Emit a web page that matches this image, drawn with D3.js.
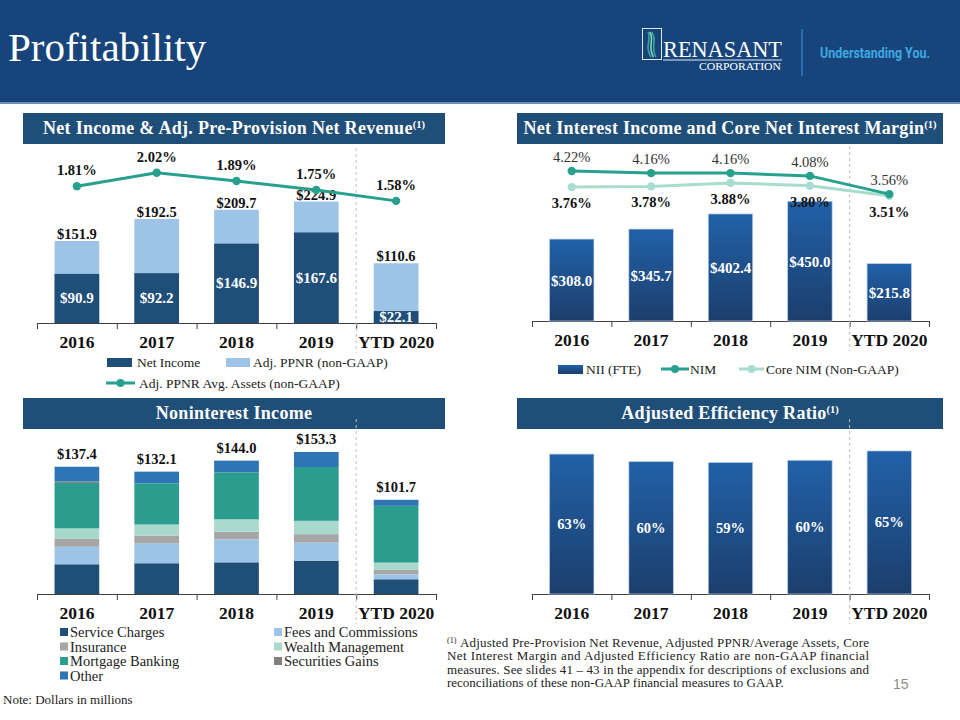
<!DOCTYPE html>
<html>
<head>
<meta charset="utf-8">
<script src="https://cdn.jsdelivr.net/npm/d3@7"></script>
<style>
body { margin: 0; background: #fff; }
svg { display: block; font-family: "Liberation Serif", "Times New Roman", serif; }
</style>
</head>
<body>
<svg id="chart" width="960" height="720"></svg>
<script>
// data (dollars in millions)
var years = ["2016", "2017", "2018", "2019", "YTD 2020"];

var netIncome = [90.9, 92.2, 146.9, 167.6, 22.1];
var adjPpnr = [151.9, 192.5, 209.7, 224.9, 110.6];
var ppnrAvgAssets = [1.81, 2.02, 1.89, 1.75, 1.58];

var niiFte = [308.0, 345.7, 402.4, 450.0, 215.8];
var nim = [4.22, 4.16, 4.16, 4.08, 3.56];
var coreNim = [3.76, 3.78, 3.88, 3.80, 3.51];

var nonintSeries = ["Service Charges", "Fees and Commissions", "Insurance", "Wealth Management", "Mortgage Banking", "Securities Gains", "Other"];
var serviceCharges = [32.1, 33.2, 34.2, 36.0, 15.9];
var feesCommissions = [18.9, 21.6, 24.8, 19.5, 5.4];
var insurance = [8.4, 8.3, 8.2, 9.1, 4.7];
var wealthMgmt = [11.5, 11.9, 13.4, 14.4, 7.9];
var mortgageBanking = [49.0, 44.5, 50.8, 58.1, 61.3];
var securitiesGains = [1.6, 0.1, 0.1, 0.0, 0.0];
var otherIncome = [15.9, 12.5, 12.5, 16.2, 6.5];
var nonintTotals = [137.4, 132.1, 144.0, 153.3, 101.7];

var efficiency = [63.2, 59.8, 59.4, 60.4, 64.6];

var footnoteLines = [
  "Adjusted Pre-Provision Net Revenue, Adjusted PPNR/Average Assets, Core",
  "Net Interest Margin and Adjusted Efficiency Ratio are non-GAAP financial",
  "measures. See slides 41 \u2013 43 in the appendix for descriptions of exclusions and",
  "reconciliations of these non-GAAP financial measures to GAAP."
];

var navy = "#1f4e79";
var teal = "#27a08e";
var paleTeal = "#a8dccf";
var nonintColors = ["#1f4e79", "#9dc3e6", "#a6a6a6", "#a9d9cd", "#2a9d8f", "#7f7f7f", "#2e75b6"];

var svg = d3.select("#chart");

var defs = svg.append("defs");
var grad = defs.append("linearGradient").attr("id", "barGrad")
  .attr("x1", 0).attr("y1", 0).attr("x2", 0).attr("y2", 1);
grad.append("stop").attr("offset", "0%").attr("stop-color", "#2161a8");
grad.append("stop").attr("offset", "100%").attr("stop-color", "#1c3e6c");

// top banner
svg.append("rect").attr("x", 0).attr("y", 0).attr("width", 960).attr("height", 103).attr("fill", "#17457b");
svg.append("rect").attr("x", 0).attr("y", 102).attr("width", 960).attr("height", 2).attr("fill", "#6f8fb3");
svg.append("text").attr("x", 8).attr("y", 61).attr("fill", "#fff")
  .style("font-size", "41px").text("Profitability");

// logo
var logo = svg.append("g");
logo.append("rect").attr("x", 642.5).attr("y", 28.5).attr("width", 19).attr("height", 31)
  .attr("fill", "none").attr("stroke", "#dfe8f2").attr("stroke-width", 1);
[0, 3, 6].forEach(function(o) {
  logo.append("path")
    .attr("d", "M" + (648 + o * 0.6) + ",32 C" + (652 + o) + ",40 " + (644 + o) + ",46 " + (651 + o * 0.8) + ",57")
    .attr("fill", "none").attr("stroke", o == 3 ? "#8fd1c2" : "#3aa88f").attr("stroke-width", 1.6);
});
logo.append("text").attr("x", 663).attr("y", 57).attr("fill", "#fff")
  .attr("textLength", 119).attr("lengthAdjust", "spacingAndGlyphs")
  .style("font-size", "24px").text("RENASANT");
logo.append("line").attr("x1", 663).attr("x2", 782).attr("y1", 60).attr("y2", 60)
  .attr("stroke", "#dfe8f2").attr("stroke-width", 1);
logo.append("text").attr("x", 699).attr("y", 70).attr("fill", "#fff")
  .attr("textLength", 82).attr("lengthAdjust", "spacingAndGlyphs")
  .style("font-size", "10.5px").text("CORPORATION");
logo.append("line").attr("x1", 802).attr("x2", 802).attr("y1", 29).attr("y2", 76)
  .attr("stroke", "#2a8fcf").attr("stroke-width", 1.2);
logo.append("text").attr("x", 820).attr("y", 58).attr("fill", "#3ea8e0")
  .attr("textLength", 110).attr("lengthAdjust", "spacingAndGlyphs")
  .style("font-family", "Roboto, 'Open Sans', sans-serif").style("font-weight", "700")
  .style("font-size", "14px").text("Understanding You.");

function header(x, y, w, title, sup) {
  svg.append("rect").attr("x", x).attr("y", y).attr("width", w).attr("height", 31).attr("fill", navy);
  var t = svg.append("text").attr("x", x + w / 2).attr("y", y + 21)
    .attr("text-anchor", "middle").attr("fill", "#fff")
    .style("font-size", "18px").style("font-weight", "700").style("letter-spacing", "0.3px");
  t.append("tspan").text(title);
  if (sup) t.append("tspan").attr("dy", -6).style("font-size", "10.5px").style("letter-spacing", "0").text(sup);
}

// category axis: boundary ticks + year labels
function xAxis(x0, x1, axisY, labelY) {
  var bounds = d3.scaleLinear().domain([0, years.length]).range([x0, x1]);
  var g = svg.append("g").attr("transform", "translate(0," + axisY + ")")
    .call(d3.axisBottom(bounds).tickValues(d3.range(years.length + 1)).tickSizeInner(6).tickSizeOuter(0).tickFormat(""));
  g.select(".domain").attr("stroke", "#404040");
  g.selectAll(".tick line").attr("stroke", "#404040");

  var band = d3.scaleBand().domain(years).range([x0, x1]).paddingInner(0.44).paddingOuter(0.22);
  var lg = svg.append("g").attr("transform", "translate(0," + labelY + ")")
    .call(d3.axisBottom(band).tickSize(0).tickPadding(0));
  lg.select(".domain").remove();
  lg.selectAll("text").attr("fill", "#111").attr("dy", 0)
    .style("font-family", "'Liberation Serif', serif").style("font-size", "17.5px").style("font-weight", "700");

  // dashed divider before the YTD column
  svg.append("line").attr("x1", bounds(4)).attr("x2", bounds(4))
    .attr("y1", axisY - 175).attr("y2", axisY + 30)
    .attr("stroke", "#c0c0c0").attr("stroke-dasharray", "3,3");
  return band;
}

function label(g, x, y, txt, opts) {
  opts = opts || {};
  return g.append("text").attr("x", x).attr("y", y).attr("text-anchor", "middle")
    .attr("fill", opts.fill || "#111")
    .style("font-size", (opts.size || 14) + "px")
    .style("font-weight", opts.bold === false ? "400" : "700")
    .text(txt);
}

var money = function(v) { return "$" + d3.format(".1f")(v); };
var pct = function(v) { return d3.format(".2f")(v) + "%"; };

// ---------------- Panel 1: Net Income & Adj. PPNR ----------------
header(23, 113, 422, "Net Income & Adj. Pre-Provision Net Revenue", "(1)");
var x1 = xAxis(37, 436, 323, 348);
var y1 = d3.scaleLinear().domain([0, 250]).range([323, 188]);
var yl1 = d3.scaleLinear().domain([1.5, 2.1]).range([206, 167.6]);
var p1 = svg.append("g");

p1.selectAll(".ppnr").data(adjPpnr).enter().append("rect")
  .attr("x", function(d, i) { return x1(years[i]); })
  .attr("width", x1.bandwidth())
  .attr("y", function(d) { return y1(d); })
  .attr("height", function(d) { return y1(0) - y1(d); })
  .attr("fill", "#9dc3e6");
p1.selectAll(".ni").data(netIncome).enter().append("rect")
  .attr("x", function(d, i) { return x1(years[i]); })
  .attr("width", x1.bandwidth())
  .attr("y", function(d) { return y1(d); })
  .attr("height", function(d) { return y1(0) - y1(d); })
  .attr("fill", navy);

adjPpnr.forEach(function(d, i) {
  label(p1, x1(years[i]) + x1.bandwidth() / 2, y1(d) - 2, money(d), { size: 14.5 });
});
netIncome.forEach(function(d, i) {
  label(p1, x1(years[i]) + x1.bandwidth() / 2, (y1(d) + y1(0)) / 2 + 5, money(d), { size: 15, fill: "#fff" });
});

var line1 = d3.line().x(function(d, i) { return x1(years[i]) + x1.bandwidth() / 2; }).y(function(d) { return yl1(d); });
p1.append("path").datum(ppnrAvgAssets).attr("d", line1).attr("fill", "none").attr("stroke", teal).attr("stroke-width", 3);
p1.selectAll(".dot").data(ppnrAvgAssets).enter().append("circle")
  .attr("cx", function(d, i) { return x1(years[i]) + x1.bandwidth() / 2; })
  .attr("cy", function(d) { return yl1(d); })
  .attr("r", 4.2).attr("fill", teal);
ppnrAvgAssets.forEach(function(d, i) {
  label(p1, x1(years[i]) + x1.bandwidth() / 2, yl1(d) - 11, pct(d), { size: 14.5 });
});

// legend 1
var lg1 = svg.append("g").style("font-size", "13.5px");
lg1.append("rect").attr("x", 107).attr("y", 358).attr("width", 25).attr("height", 9).attr("fill", navy);
lg1.append("text").attr("x", 137).attr("y", 366.5).attr("fill", "#222").text("Net Income");
lg1.append("rect").attr("x", 226).attr("y", 358).attr("width", 24).attr("height", 9).attr("fill", "#9dc3e6");
lg1.append("text").attr("x", 253).attr("y", 366.5).attr("fill", "#222").text("Adj. PPNR (non-GAAP)");
lg1.append("line").attr("x1", 106).attr("x2", 135).attr("y1", 383).attr("y2", 383).attr("stroke", teal).attr("stroke-width", 3);
lg1.append("circle").attr("cx", 120.5).attr("cy", 383).attr("r", 4).attr("fill", teal);
lg1.append("text").attr("x", 139).attr("y", 387.5).attr("fill", "#222").text("Adj. PPNR Avg. Assets (non-GAAP)");

// ---------------- Panel 2: NII and Core NIM ----------------
header(517, 113, 426, "Net Interest Income and Core Net Interest Margin", "(1)");
var x2 = xAxis(532, 929, 321, 346);
var y2 = d3.scaleLinear().domain([0, 500]).range([321, 188]);
var yl2 = d3.scaleLinear().domain([3.4, 4.3]).range([199.7, 168.2]);
var p2 = svg.append("g");

p2.selectAll("rect").data(niiFte).enter().append("rect")
  .attr("x", function(d, i) { return x2(years[i]); })
  .attr("width", x2.bandwidth())
  .attr("y", function(d) { return y2(d); })
  .attr("height", function(d) { return y2(0) - y2(d); })
  .attr("fill", "url(#barGrad)").attr("stroke", "#b9d2ec").attr("stroke-width", 0.7);
niiFte.forEach(function(d, i) {
  label(p2, x2(years[i]) + x2.bandwidth() / 2, (y2(d) + y2(0)) / 2 + 6, money(d), { size: 15, fill: "#fff" });
});

var cx2 = function(d, i) { return x2(years[i]) + x2.bandwidth() / 2; };
var lineCore = d3.line().x(cx2).y(function(d) { return yl2(d); });
p2.append("path").datum(coreNim).attr("d", lineCore).attr("fill", "none").attr("stroke", paleTeal).attr("stroke-width", 3);
p2.selectAll(".cdot").data(coreNim).enter().append("circle")
  .attr("cx", cx2).attr("cy", function(d) { return yl2(d); }).attr("r", 4.2).attr("fill", paleTeal);
p2.append("path").datum(nim).attr("d", lineCore).attr("fill", "none").attr("stroke", teal).attr("stroke-width", 3);
p2.selectAll(".ndot").data(nim).enter().append("circle")
  .attr("cx", cx2).attr("cy", function(d) { return yl2(d); }).attr("r", 4.2).attr("fill", teal);

nim.forEach(function(d, i) {
  label(p2, cx2(d, i), yl2(d) - 9, pct(d), { size: 14.5, bold: false, fill: "#333" });
});
coreNim.forEach(function(d, i) {
  label(p2, cx2(d, i), yl2(d) + 21, pct(d), { size: 14.5 });
});

var lg2 = svg.append("g").style("font-size", "13.5px");
lg2.append("rect").attr("x", 558).attr("y", 365).attr("width", 25).attr("height", 9).attr("fill", "url(#barGrad)");
lg2.append("text").attr("x", 586).attr("y", 373.5).attr("fill", "#222").text("NII (FTE)");
lg2.append("line").attr("x1", 661).attr("x2", 689).attr("y1", 369).attr("y2", 369).attr("stroke", teal).attr("stroke-width", 3);
lg2.append("circle").attr("cx", 675).attr("cy", 369).attr("r", 4).attr("fill", teal);
lg2.append("text").attr("x", 690).attr("y", 373.5).attr("fill", "#222").text("NIM");
lg2.append("line").attr("x1", 739).attr("x2", 764).attr("y1", 369).attr("y2", 369).attr("stroke", paleTeal).attr("stroke-width", 3);
lg2.append("circle").attr("cx", 751.5).attr("cy", 369).attr("r", 4).attr("fill", paleTeal);
lg2.append("text").attr("x", 766).attr("y", 373.5).attr("fill", "#222").text("Core NIM (Non-GAAP)");

// ---------------- Panel 3: Noninterest Income ----------------
header(23, 398, 422, "Noninterest Income");
var x3 = xAxis(37, 436, 594, 619);
var y3 = d3.scaleLinear().domain([0, 160]).range([594, 445.8]);
var rows = years.map(function(yr, i) {
  return {
    year: yr,
    "Service Charges": serviceCharges[i],
    "Fees and Commissions": feesCommissions[i],
    "Insurance": insurance[i],
    "Wealth Management": wealthMgmt[i],
    "Mortgage Banking": mortgageBanking[i],
    "Securities Gains": securitiesGains[i],
    "Other": otherIncome[i]
  };
});
var stacked = d3.stack().keys(nonintSeries)(rows);
var color3 = d3.scaleOrdinal().domain(nonintSeries).range(nonintColors);
var p3 = svg.append("g");
p3.selectAll("g").data(stacked).enter().append("g")
  .attr("fill", function(s) { return color3(s.key); })
  .selectAll("rect").data(function(s) { return s; }).enter().append("rect")
  .attr("x", function(d) { return x3(d.data.year); })
  .attr("width", x3.bandwidth())
  .attr("y", function(d) { return y3(d[1]); })
  .attr("height", function(d) { return Math.max(0, y3(d[0]) - y3(d[1])); });
nonintTotals.forEach(function(d, i) {
  label(p3, x3(years[i]) + x3.bandwidth() / 2, y3(d) - 8, money(d), { size: 14.5 });
});

var lg3 = svg.append("g").style("font-size", "14.5px");
nonintSeries.forEach(function(k, i) {
  var col = i % 2, row = Math.floor(i / 2);
  var lx = col ? 274 : 60, ly = 632 + row * 14.5;
  lg3.append("rect").attr("x", lx).attr("y", ly - 4).attr("width", 8).attr("height", 8).attr("fill", color3(k));
  lg3.append("text").attr("x", lx + 10).attr("y", ly + 5).attr("fill", "#222").text(k);
});
svg.append("text").attr("x", 3).attr("y", 704).attr("fill", "#222").style("font-size", "13px").text("Note: Dollars in millions");

// ---------------- Panel 4: Adjusted Efficiency Ratio ----------------
header(517, 398, 426, "Adjusted Efficiency Ratio", "(1)");
var x4 = xAxis(532, 929, 594, 619);
var y4 = d3.scaleLinear().domain([0, 70]).range([594, 439]);
var p4 = svg.append("g");
p4.selectAll("rect").data(efficiency).enter().append("rect")
  .attr("x", function(d, i) { return x4(years[i]); })
  .attr("width", x4.bandwidth())
  .attr("y", function(d) { return y4(d); })
  .attr("height", function(d) { return y4(0) - y4(d); })
  .attr("fill", "url(#barGrad)").attr("stroke", "#b9d2ec").attr("stroke-width", 0.7);
efficiency.forEach(function(d, i) {
  label(p4, x4(years[i]) + x4.bandwidth() / 2, (y4(d) + y4(0)) / 2 + 5, Math.round(d) + "%", { size: 14.5, fill: "#fff" });
});

// footnote
var fn = svg.append("g").style("font-size", "13px").attr("fill", "#222");
footnoteLines.forEach(function(t, i) {
  var lx = i == 0 ? 460 : 447;
  var tx = fn.append("text").attr("x", lx).attr("y", 647 + i * 13.3).text(t);
  if (i < 3) tx.attr("textLength", 869 - lx).attr("lengthAdjust", "spacing");
});
fn.append("text").attr("x", 447).attr("y", 643).style("font-size", "8px").text("(1)");
svg.append("text").attr("x", 893).attr("y", 689).attr("fill", "#8c8c8c")
  .style("font-family", "'Liberation Sans', sans-serif").style("font-size", "14px").text("15");
</script>
</body>
</html>
